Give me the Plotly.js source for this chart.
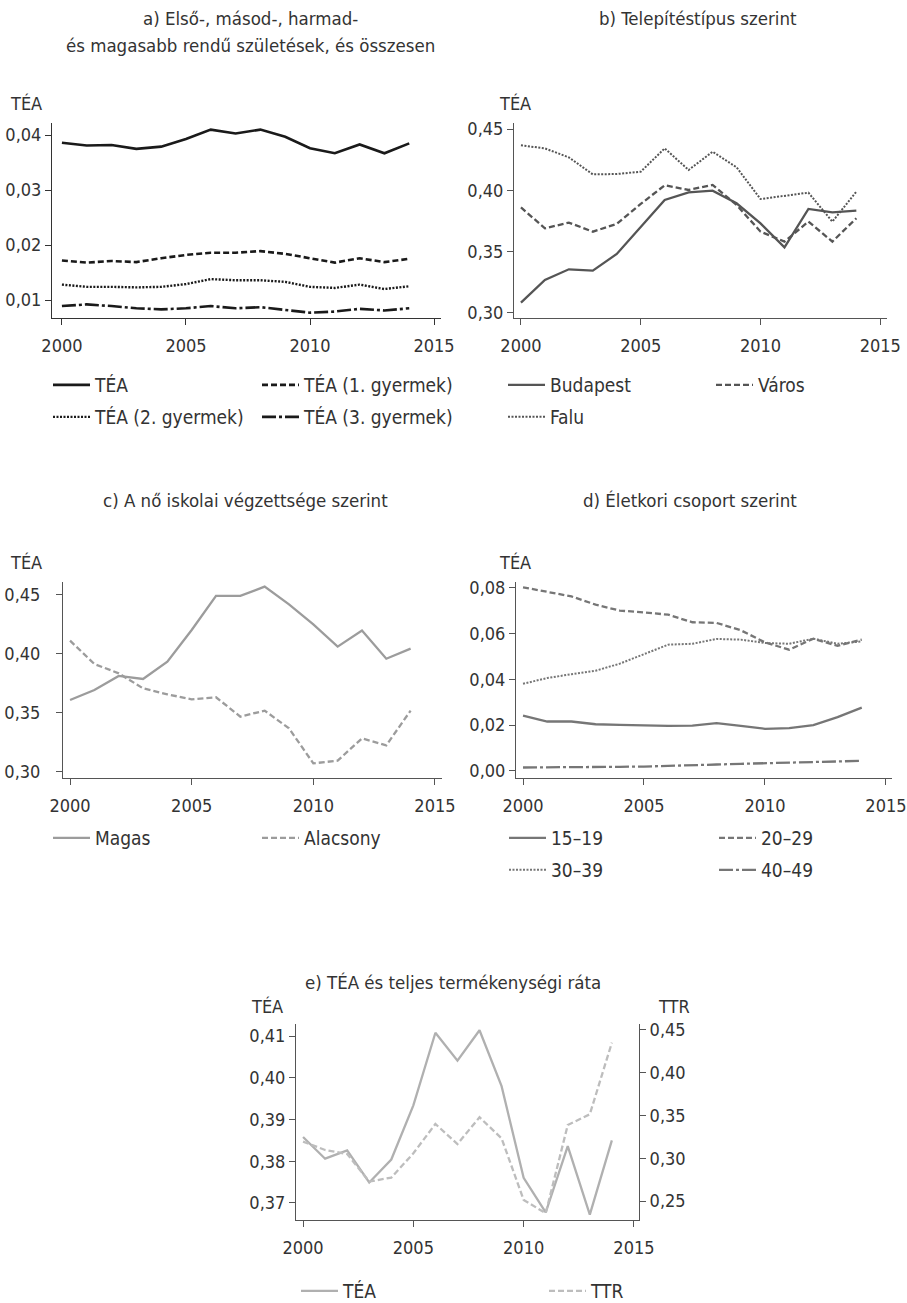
<!DOCTYPE html>
<html>
<head>
<meta charset="utf-8">
<script src="https://cdn.plot.ly/plotly-3.0.1.min.js"></script>
<style>
html,body{margin:0;padding:0;background:#fff;}
#chart{width:907px;height:1303px;}
</style>
</head>
<body>
<div id="chart"></div>
<script>
// ---------- DATA ----------
const years = [2000,2001,2002,2003,2004,2005,2006,2007,2008,2009,2010,2011,2012,2013,2014];

// a) birth order
const a_names = ["TÉA","TÉA (1. gyermek)","TÉA (2. gyermek)","TÉA (3. gyermek)"];
const a_total = [0.0386,0.0381,0.0382,0.0375,0.0379,0.0393,0.0410,0.0403,0.0410,0.0397,0.0376,0.0367,0.0383,0.0367,0.0385];
const a_first = [0.0172,0.0168,0.0171,0.0169,0.0176,0.0182,0.0186,0.0186,0.0189,0.0184,0.0176,0.0168,0.0176,0.0169,0.0175];
const a_second = [0.0128,0.0124,0.0124,0.0123,0.0124,0.0129,0.0138,0.0136,0.0136,0.0133,0.0124,0.0122,0.0128,0.0120,0.0125];
const a_third = [0.0089,0.0092,0.0089,0.0085,0.0083,0.0085,0.0089,0.0085,0.0087,0.0082,0.0077,0.0079,0.0084,0.0081,0.0085];

// b) settlement type
const b_names = ["Budapest","Város","Falu"];
const b_budapest = [0.3084,0.3269,0.3356,0.3345,0.3481,0.3704,0.3921,0.3984,0.3997,0.3894,0.3731,0.3535,0.3848,0.3821,0.3834];
const b_varos = [0.3861,0.3690,0.3737,0.3663,0.3726,0.3889,0.4041,0.4003,0.4044,0.3881,0.3663,0.3582,0.3745,0.3582,0.3772];
const b_falu = [0.4367,0.4342,0.4269,0.4130,0.4133,0.4152,0.4342,0.4166,0.4315,0.4188,0.3929,0.3954,0.3981,0.3745,0.3989];

// c) education
const c_names = ["Magas","Alacsony"];
const c_magas = [0.3610,0.3695,0.3814,0.3788,0.3935,0.4203,0.4492,0.4492,0.4571,0.4421,0.4251,0.4062,0.4198,0.3960,0.4045];
const c_alacsony = [0.4113,0.3915,0.3836,0.3709,0.3658,0.3616,0.3633,0.3469,0.3520,0.3370,0.3073,0.3096,0.3285,0.3226,0.3520];

// d) age group
const d_names = ["15–19","20–29","30–39","40–49"];
const d_1519 = [0.0242,0.0216,0.0216,0.0204,0.0201,0.0198,0.0197,0.0198,0.0209,0.0197,0.0184,0.0187,0.0200,0.0235,0.0277];
const d_2029 = [0.0803,0.0782,0.0763,0.0727,0.0701,0.0693,0.0683,0.0650,0.0647,0.0615,0.0562,0.0530,0.0578,0.0547,0.0574];
const d_3039 = [0.0381,0.0406,0.0423,0.0438,0.0469,0.0511,0.0552,0.0556,0.0577,0.0574,0.0559,0.0556,0.0578,0.0556,0.0566];
const d_4049 = [0.0015,0.0015,0.0016,0.0016,0.0018,0.0019,0.0021,0.0025,0.0028,0.0031,0.0034,0.0037,0.0039,0.0041,0.0044];

// e) TÉA and TTR
const e_names = ["TÉA","TTR"];
const e_tea = [0.3858,0.3806,0.3826,0.3749,0.3804,0.3934,0.4108,0.4041,0.4114,0.3980,0.3760,0.3677,0.3836,0.3672,0.3850];
const e_ttr = [0.3194,0.3097,0.3050,0.2727,0.2774,0.3058,0.3401,0.3167,0.3479,0.3233,0.2513,0.2357,0.3389,0.3514,0.4352];

// tick labels
const xTicks = [2000,2005,2010,2015];
const aTicks = [0.01,0.02,0.03,0.04];
const bcTicks = [0.30,0.35,0.40,0.45];
const dTicks = [0.00,0.02,0.04,0.06,0.08];
const eLeftTicks = [0.37,0.38,0.39,0.40,0.41];
const eRightTicks = [0.25,0.30,0.35,0.40,0.45];

const titles = {
  a1: "a) Első-, másod-, harmad-",
  a2: "és magasabb rendű születések, és összesen",
  b: "b) Telepítéstípus szerint",
  c: "c) A nő iskolai végzettsége szerint",
  d: "d) Életkori csoport szerint",
  e: "e) TÉA és teljes termékenységi ráta"
};

// ---------- LAYOUT HELPERS ----------
const W = 907, H = 1303;
const FONT = "'Noto Sans Condensed Light', 'Noto Sans Condensed', 'DejaVu Sans Condensed', sans-serif";
const TXT = "#333";
function dx(l, r){ return [l/W, r/W]; }
function dy(t, b){ return [1 - b/H, 1 - t/H]; }

function xax(dom, range, anchor, lc){
  return {domain: dom, range: range, anchor: anchor, tickvals: xTicks, ticktext: xTicks.map(String),
    showline: true, linecolor: lc, linewidth: 1, ticks: "outside", ticklen: 6, tickcolor: lc, tickwidth: 1,
    ticklabelstandoff: 5,
    showgrid: false, zeroline: false, automargin: false, tickfont: {family: FONT, size: 18, color: TXT}, fixedrange: true};
}
function yax(dom, range, anchor, ticks, lc, side, standoff){
  return {domain: dom, range: range, anchor: anchor, tickvals: ticks, tickformat: ".2f", side: side || "left",
    showline: true, linecolor: lc, linewidth: 1, ticks: "outside", ticklen: 6, tickcolor: lc, tickwidth: 1,
    ticklabelstandoff: standoff || 0,
    showgrid: false, zeroline: false, automargin: false, tickfont: {family: FONT, size: 18, color: TXT}, fixedrange: true};
}

const traces = [];
let legCount = 0;
const legends = {};
function leg(linex, ypx){
  return {x: (linex - 5)/W, y: 1 - ypx/H, xanchor: "left", yanchor: "middle", orientation: "h",
    bgcolor: "rgba(0,0,0,0)", borderwidth: 0, itemwidth: 37,
    font: {family: FONT, size: 19, color: TXT}};
}
function add(x, y, name, xa, ya, color, dash, width, lx, ly){
  legCount++;
  const id = legCount === 1 ? "legend" : "legend" + legCount;
  legends[id] = leg(lx, ly);
  traces.push({type: "scatter", mode: "lines", x: x, y: y, name: name, xaxis: xa, yaxis: ya,
    line: {color: color, dash: dash, width: width}, legend: id, hoverinfo: "x+y+name"});
}

const cA = "#1a1a1a", cB = "#555555", cC = "#9c9c9c", cD = "#767676", cE = "#b0b0b0";
const dashDot = "14px,3px,3px,3px";
const dashS = "6px,3px";
const dotS = "2px,1.5px";

add(years, a_total, a_names[0], "x", "y", cA, "solid", 2.6, 53, 385);
add(years, a_first, a_names[1], "x", "y", cA, dashS, 2.6, 262, 385);
add(years, a_second, a_names[2], "x", "y", cA, dotS, 2.4, 53, 417);
add(years, a_third, a_names[3], "x", "y", cA, dashDot, 2.6, 262, 417);

add(years, b_budapest, b_names[0], "x2", "y2", cB, "solid", 2.3, 508, 385);
add(years, b_varos, b_names[1], "x2", "y2", cB, dashS, 2.3, 716, 385);
add(years, b_falu, b_names[2], "x2", "y2", cB, dotS, 2.0, 508, 417);

add(years, c_magas, c_names[0], "x3", "y3", cC, "solid", 2.3, 53, 838);
add(years, c_alacsony, c_names[1], "x3", "y3", cC, dashS, 2.3, 262, 838);

add(years, d_1519, d_names[0], "x4", "y4", cD, "solid", 2.3, 509, 838);
add(years, d_2029, d_names[1], "x4", "y4", cD, dashS, 2.3, 719, 838);
add(years, d_3039, d_names[2], "x4", "y4", cD, dotS, 2.0, 509, 870);
add(years, d_4049, d_names[3], "x4", "y4", cD, dashDot, 2.3, 719, 870);

add(years, e_tea, e_names[0], "x5", "y5", cE, "solid", 2.3, 301, 1291);
add(years, e_ttr, e_names[1], "x5", "y6", "#bdbdbd", dashS, 2.3, 549, 1291);

function ann(text, xpx, ypx, anchor, size){
  return {text: text, x: xpx/W, y: 1 - ypx/H, xref: "paper", yref: "paper", showarrow: false,
    xanchor: anchor || "center", yanchor: "middle", font: {family: FONT, size: size || 18.5, color: TXT}};
}

const layout = Object.assign({
  width: W, height: H, margin: {l: 0, r: 0, t: 0, b: 0, autoexpand: false},
  paper_bgcolor: "#fff", plot_bgcolor: "#fff",
  separators: ",.", showlegend: true,
  font: {family: FONT, size: 18, color: TXT},
  xaxis: xax(dx(52, 441), [1999.6, 2015.28], "y", "#333"),
  yaxis: yax(dy(123, 318), [0.00673, 0.0422], "x", aTicks, "#333"),
  xaxis2: xax(dx(514, 887), [1999.71, 2015.28], "y2", "#555"),
  yaxis2: yax(dy(123, 318), [0.2959, 0.4549], "x2", bcTicks, "#555"),
  xaxis3: xax(dx(63, 442), [1999.71, 2015.29], "y3", "#555"),
  yaxis3: yax(dy(582, 778), [0.2949, 0.461], "x3", bcTicks, "#555", "left", 12),
  xaxis4: xax(dx(516, 892), [1999.71, 2015.25], "y4", "#555"),
  yaxis4: yax(dy(582, 778), [-0.0031, 0.0826], "x4", dTicks, "#555"),
  xaxis5: xax(dx(296, 639), [1999.68, 2015.23], "y5", "#555"),
  yaxis5: yax(dy(1024, 1220), [0.3659, 0.4129], "x5", eLeftTicks, "#555"),
  yaxis6: Object.assign(yax(dy(1024, 1220), [0.2278, 0.457], "x5", eRightTicks, "#555", "right"), {overlaying: "y5"}),
  annotations: [
    ann(titles.a1, 250, 18), ann(titles.a2, 250, 45), ann(titles.b, 698, 18),
    ann(titles.c, 245, 500), ann(titles.d, 690, 500), ann(titles.e, 453, 982),
    ann("TÉA", 8, 103, "left", 18), ann("TÉA", 497, 103, "left", 18),
    ann("TÉA", 8, 563, "left", 18), ann("TÉA", 497, 563, "left", 18),
    ann("TÉA", 249, 1006, "left", 18), ann("TTR", 692, 1006, "right", 18)
  ]
}, legends);

Plotly.newPlot("chart", traces, layout, {displayModeBar: false, staticPlot: true});
</script>
</body>
</html>
